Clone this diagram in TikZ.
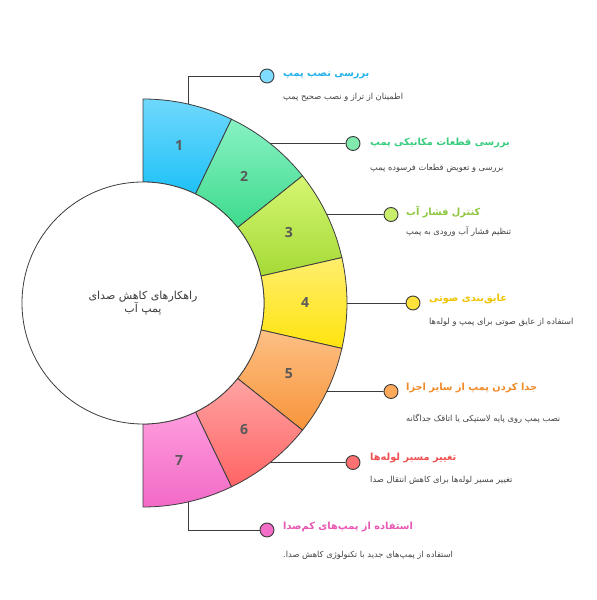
\documentclass[tikz,border=0pt]{standalone}
\usepackage{fontspec}
\setmainfont{DejaVu Sans}
\newfontfamily\arabicfont[Script=Arabic]{DejaVu Sans}
\newfontfamily\numfont{Open Sans}
\TeXXeTstate=1
\usetikzlibrary{calc}
\definecolor{s1t}{HTML}{6FD8FC}\definecolor{s1b}{HTML}{1EC1F7}
\definecolor{s2t}{HTML}{88F2C4}\definecolor{s2b}{HTML}{3DDA8C}
\definecolor{s3t}{HTML}{D6F672}\definecolor{s3b}{HTML}{A4DA36}
\definecolor{s4t}{HTML}{FFEE6E}\definecolor{s4b}{HTML}{FFE40E}
\definecolor{s5t}{HTML}{FDC084}\definecolor{s5b}{HTML}{F8943A}
\definecolor{s6t}{HTML}{FFA3A3}\definecolor{s6b}{HTML}{FF6464}
\definecolor{s7t}{HTML}{FF9CDE}\definecolor{s7b}{HTML}{F26AC6}
\definecolor{d1}{HTML}{7FDCFF}\definecolor{d2}{HTML}{80EAAE}
\definecolor{d3}{HTML}{C9EE6C}\definecolor{d4}{HTML}{FFE33A}
\definecolor{d5}{HTML}{FFA95A}\definecolor{d6}{HTML}{FF7070}
\definecolor{d7}{HTML}{F26EC6}
\definecolor{t1}{HTML}{22B2EA}\definecolor{t2}{HTML}{38CC7E}
\definecolor{t3}{HTML}{8CC63C}\definecolor{t4}{HTML}{EEC400}
\definecolor{t5}{HTML}{F08A28}\definecolor{t6}{HTML}{EE4F4F}
\definecolor{t7}{HTML}{E857B4}
\definecolor{ink}{HTML}{3C3C3C}
\definecolor{desc}{HTML}{454545}
\tikzset{
  ringline/.style={draw=ink, line width=0.8pt},
  conn/.style={draw=ink, line width=0.9pt},
  dot/.style={circle, draw=ink, line width=0.9pt, minimum size=14pt, inner sep=0pt},
  num/.style={font=\numfont\bfseries\fontsize{14}{17}\selectfont, text=ink!85},
  ttl/.style={anchor=west, inner sep=0pt, font=\arabicfont\bfseries\fontsize{9.8}{12}\selectfont},
  dsc/.style={anchor=west, inner sep=0pt, text=desc, font=\arabicfont\fontsize{8.3}{10}\selectfont},
  hub/.style={circle, draw=ink, line width=0.8pt, fill=white, minimum size=242pt, inner sep=0pt,
    align=center, text=ink, font=\arabicfont\fontsize{11}{15}\selectfont}
}
\begin{document}
\begin{tikzpicture}[x=1pt,y=1pt]
\useasboundingbox (0,0) rectangle (597,600);
\fill[white] (0,0) rectangle (597,600);
\coordinate (c) at (143,297);
\foreach \i/\tc/\bc in {1/s1t/s1b,2/s2t/s2b,3/s3t/s3b,4/s4t/s4b,5/s5t/s5b,6/s6t/s6b,7/s7t/s7b}{
  \pgfmathsetmacro\a{90-(\i-1)*180/7}
  \pgfmathsetmacro\b{90-\i*180/7}
  \pgfmathsetmacro\m{90-(\i-0.5)*180/7}
  \shadedraw[top color=\tc, bottom color=\bc, ringline]
    ($(c)+(\a:121)$) -- ($(c)+(\a:204)$) arc[start angle=\a, end angle=\b, radius=204]
    -- ($(c)+(\b:121)$) arc[start angle=\b, end angle=\a, radius=121] -- cycle;
  \node[num] (n\i) at ($(c)+(\m:162)$) {\i};
  \coordinate (o\i) at ($(c)+(\m:204)$);
}
\node[hub] (hub) at (c) {\beginR راهکارهای کاهش صدای\endR\\[-2pt]\beginR پمپ آب\endR};

\node[dot, fill=d1] (p1) at (267,524) {};
\node[dot, fill=d2] (p2) at (353,456.5) {};
\node[dot, fill=d3] (p3) at (391,385.5) {};
\node[dot, fill=d4] (p4) at (413,297) {};
\node[dot, fill=d5] (p5) at (391,208.5) {};
\node[dot, fill=d6] (p6) at (353,137.5) {};
\node[dot, fill=d7] (p7) at (267,70) {};

\draw[conn] (p1.west) -| (o1);
\draw[conn] (p2.west) -- (o2);
\draw[conn] (p3.west) -- (o3);
\draw[conn] (p4.west) -- (o4);
\draw[conn] (p5.west) -- (o5);
\draw[conn] (p6.west) -- (o6);
\draw[conn] (p7.west) -| (o7);

\node[ttl, text=t1] (h1) at (283,525) {\beginR بررسی نصب پمپ\endR};
\node[dsc] (e1) at (283,503) {\beginR اطمینان از تراز و نصب صحیح پمپ\endR};
\node[ttl, text=t2] (h2) at (370,457) {\beginR بررسی قطعات مکانیکی پمپ\endR};
\node[dsc] (e2) at (370,432) {\beginR بررسی و تعویض قطعات فرسوده پمپ\endR};
\node[ttl, text=t3] (h3) at (406,388) {\beginR کنترل فشار آب\endR};
\node[dsc] (e3) at (406,368) {\beginR تنظیم فشار آب ورودی به پمپ\endR};
\node[ttl, text=t4] (h4) at (429,301) {\beginR عایق‌بندی صوتی\endR};
\node[dsc] (e4) at (429,278) {\beginR استفاده از عایق صوتی برای پمپ و لوله‌ها\endR};
\node[ttl, text=t5] (h5) at (406,212) {\beginR جدا کردن پمپ از سایر اجزا\endR};
\node[dsc] (e5) at (406,181) {\beginR نصب پمپ روی پایه لاستیکی یا اتاقک جداگانه\endR};
\node[ttl, text=t6] (h6) at (370,142) {\beginR تغییر مسیر لوله‌ها\endR};
\node[dsc] (e6) at (370,120) {\beginR تغییر مسیر لوله‌ها برای کاهش انتقال صدا\endR};
\node[ttl, text=t7] (h7) at (283,73) {\beginR استفاده از پمپ‌های کم‌صدا\endR};
\node[dsc] (e7) at (283,45) {\beginR استفاده از پمپ‌های جدید با تکنولوژی کاهش صدا.\endR};
\end{tikzpicture}
\end{document}
